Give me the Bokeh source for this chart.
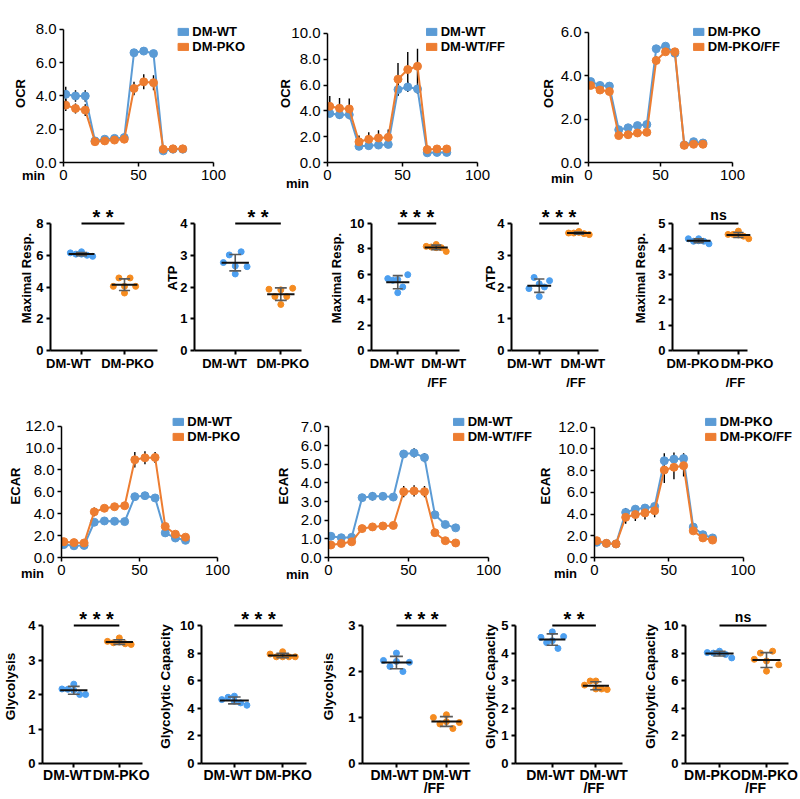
import numpy as np
from bokeh.plotting import figure
from bokeh.layouts import column, row
from bokeh.models import (Range1d, FixedTicker, NumeralTickFormatter, Legend,
                          LegendItem, Label, LinearAxis)
from bokeh.embed import file_html
from bokeh.resources import INLINE

# ---------------- data ----------------
TIME_MIN = [1.5, 8.0, 14.5, 21.0, 27.5, 34.0, 40.5, 47.0, 53.5, 60.0, 66.5, 73.0, 79.5]

OCR_A_WT = [4.1, 4.0, 4.0, 1.3, 1.4, 1.45, 1.5, 6.6, 6.7, 6.55, 0.7, 0.8, 0.8]
OCR_A_WT_ERR = [0.45, 0.35, 0.35, 0.1, 0.1, 0.1, 0.1, 0.15, 0.15, 0.15, 0.1, 0.05, 0.05]
OCR_A_PKO = [3.45, 3.25, 3.15, 1.25, 1.3, 1.35, 1.4, 4.45, 4.85, 4.8, 0.8, 0.82, 0.82]
OCR_A_PKO_ERR = [0.35, 0.3, 0.35, 0.1, 0.1, 0.1, 0.1, 0.4, 0.45, 0.45, 0.1, 0.05, 0.05]

OCR_B_WT = [3.8, 3.7, 3.7, 1.25, 1.3, 1.35, 1.4, 5.65, 5.85, 5.7, 0.75, 0.78, 0.78]
OCR_B_WT_ERR = [0.3, 0.3, 0.3, 0.15, 0.15, 0.15, 0.15, 0.5, 0.4, 0.4, 0.1, 0.05, 0.05]
OCR_B_WTFF = [4.35, 4.2, 4.15, 1.6, 1.8, 1.9, 1.95, 6.45, 7.2, 7.45, 1.0, 1.05, 1.05]
OCR_B_WTFF_ERR = [0.8, 0.8, 0.8, 0.5, 0.55, 0.6, 0.6, 1.25, 1.35, 1.35, 0.35, 0.1, 0.1]

OCR_C_PKO = [3.73, 3.55, 3.52, 1.51, 1.6, 1.7, 1.75, 5.24, 5.36, 5.03, 0.81, 0.96, 0.9]
OCR_C_PKO_ERR = [0.1, 0.15, 0.15, 0.05, 0.05, 0.05, 0.05, 0.15, 0.15, 0.15, 0.05, 0.05, 0.05]
OCR_C_PKOFF = [3.55, 3.34, 3.27, 1.24, 1.28, 1.36, 1.39, 4.7, 5.1, 5.1, 0.79, 0.84, 0.84]
OCR_C_PKOFF_ERR = [0.15, 0.15, 0.15, 0.05, 0.05, 0.05, 0.05, 0.2, 0.15, 0.15, 0.05, 0.05, 0.05]

ECAR_A_WT = [1.18, 1.07, 1.1, 3.22, 3.34, 3.31, 3.28, 5.56, 5.65, 5.44, 2.25, 1.78, 1.57]
ECAR_A_WT_ERR = [0.1, 0.1, 0.1, 0.1, 0.1, 0.1, 0.1, 0.15, 0.15, 0.15, 0.1, 0.1, 0.1]
ECAR_A_PKO = [1.45, 1.36, 1.33, 4.17, 4.5, 4.64, 4.73, 8.93, 9.11, 9.14, 2.84, 2.13, 1.86]
ECAR_A_PKO_ERR = [0.15, 0.1, 0.1, 0.4, 0.2, 0.2, 0.2, 0.7, 0.6, 0.5, 0.2, 0.1, 0.1]

ECAR_B_WT = [1.14, 1.06, 1.08, 3.21, 3.28, 3.28, 3.24, 5.55, 5.61, 5.36, 2.29, 1.77, 1.59]
ECAR_B_WT_ERR = [0.1, 0.1, 0.1, 0.2, 0.22, 0.2, 0.2, 0.2, 0.25, 0.25, 0.2, 0.1, 0.05]
ECAR_B_WTFF = [0.67, 0.75, 0.84, 1.55, 1.64, 1.69, 1.72, 3.53, 3.57, 3.53, 1.33, 0.9, 0.78]
ECAR_B_WTFF_ERR = [0.05, 0.05, 0.05, 0.1, 0.1, 0.1, 0.1, 0.3, 0.3, 0.3, 0.1, 0.05, 0.05]

ECAR_C_PKO = [1.4, 1.3, 1.25, 4.15, 4.45, 4.55, 4.7, 8.9, 9.05, 9.1, 2.8, 2.1, 1.8]
ECAR_C_PKO_ERR = [0.15, 0.1, 0.1, 0.4, 0.3, 0.3, 0.3, 0.7, 0.6, 0.5, 0.2, 0.1, 0.1]
ECAR_C_PKOFF = [1.55, 1.3, 1.25, 3.7, 3.95, 4.1, 4.3, 8.05, 8.3, 8.45, 2.45, 1.8, 1.6]
ECAR_C_PKOFF_ERR = [0.15, 0.1, 0.1, 0.6, 0.6, 0.6, 0.6, 1.2, 1.1, 1.0, 0.2, 0.1, 0.1]

MAXRESP_A_WT = [6.15, 6.07, 6.22, 6.07, 6.0, 5.93]
MAXRESP_A_PKO = [4.04, 4.57, 4.04, 3.62, 4.57, 4.04]
ATP_A_WT = [2.77, 3.01, 2.66, 2.41, 3.11, 2.64]
ATP_A_PKO = [1.93, 1.70, 1.91, 1.45, 1.70, 1.96]
MAXRESP_B_WT = [5.66, 5.53, 5.58, 4.55, 5.0, 5.97]
MAXRESP_B_WTFF = [8.2, 8.15, 8.35, 8.1, 8.1, 7.8]
ATP_B_WT = [1.95, 2.3, 2.1, 1.7, 2.0, 2.2]
ATP_B_WTFF = [3.7, 3.7, 3.72, 3.75, 3.68, 3.65]
MAXRESP_C_PKO = [4.4, 4.3, 4.32, 4.4, 4.3, 4.2]
MAXRESP_C_PKOFF = [4.57, 4.57, 4.7, 4.55, 4.5, 4.4]

GLY_A_WT = [2.16, 2.15, 2.3, 2.12, 2.0, 2.0]
GLY_A_PKO = [3.54, 3.5, 3.64, 3.52, 3.47, 3.45]
GLYCAP_A_WT = [4.63, 4.8, 4.51, 4.88, 4.39, 4.22]
GLYCAP_A_PKO = [7.93, 7.73, 7.73, 8.1, 7.73, 7.73]
GLY_B_WT = [2.24, 2.11, 2.4, 2.22, 2.0, 2.2]
GLY_B_WTFF = [1.0, 0.86, 1.06, 0.91, 0.76, 0.89]
GLYCAP_B_WT = [4.57, 4.38, 4.77, 4.45, 4.17, 4.6]
GLYCAP_B_WTFF = [2.84, 2.99, 2.7, 2.99, 2.7, 2.68]
GLYCAP_C_PKO = [8.04, 8.0, 8.14, 8.05, 7.9, 7.65]
GLYCAP_C_PKOFF = [7.55, 8.0, 7.43, 6.69, 8.14, 7.16]

# ---------------- style ----------------
FONT = "Liberation Sans"
BLUE = "#5b9bd5"
ORANGE = "#ed7d31"
DBLUE = "#4c9ff0"
DORANGE = "#f58b1f"
SDCOL = "#5a5a5a"
JITTER = [-0.26, -0.13, 0.0, 0.0, 0.13, 0.26]
MEAN_HW = 0.3
CAP_HW = 0.13
NAN1 = np.array([np.nan])


def base_fig(canvas, frame, xr, yr):
    cx0, cy0, W, H = canvas
    fl, fr, ft, fb = frame
    p = figure(width=W, height=H, output_backend="svg", toolbar_location=None,
               x_range=Range1d(*xr), y_range=Range1d(*yr),
               min_border_left=fl - cx0, min_border_right=cx0 + W - fr,
               min_border_top=ft - cy0, min_border_bottom=cy0 + H - fb)
    p.xgrid.visible = False
    p.ygrid.visible = False
    p.outline_line_color = None
    p.background_fill_color = "white"
    p.border_fill_color = "white"
    for ax in (p.xaxis[0], p.yaxis[0]):
        ax.axis_line_color = "black"
        ax.major_tick_line_color = "black"
        ax.major_tick_in = 0
        ax.major_tick_out = 4
        ax.minor_tick_line_color = None
        ax.major_label_text_font = FONT
        ax.major_label_text_color = "black"
        ax.axis_label_text_font = FONT
        ax.axis_label_text_color = "black"
        ax.axis_label_text_font_style = "bold"
    return p


def line_panel(g, ylabel, ymax, ystep, names, s1, e1, s2, e2, min_off, lab_sd):
    fl, fr, ft, fb = g["frame"]
    ppx = (g["x100"] - fl) / 100.0
    ppy = (fb - g["ytop"]) / ymax
    p = base_fig(g["canvas"], g["frame"], (0, (fr - fl) / ppx),
                 (0, ymax + (g["ytop"] - ft) / ppy))
    xa, ya = p.xaxis[0], p.yaxis[0]
    for ax in (xa, ya):
        ax.axis_line_width = 1.5
        ax.major_tick_line_width = 1.5
        ax.major_label_text_font_size = "15px"
        ax.major_label_standoff = 3
    xa.bounds = (0, 100)
    xa.ticker = FixedTicker(ticks=[0, 50, 100])
    ya.bounds = (0, ymax)
    ya.ticker = FixedTicker(ticks=list(np.arange(0, ymax + 0.001, ystep)))
    ya.formatter = NumeralTickFormatter(format="0.0")
    ya.axis_label = ylabel
    ya.axis_label_text_font_size = "13px"
    ya.axis_label_standoff = lab_sd

    t = np.array(TIME_MIN)
    for vals, errs in ((s1, e1), (s2, e2)):
        v = np.array(vals)
        e = np.array(errs)
        p.segment(t, v - e, t, v + e, line_color="black", line_width=1.4)
    rends = []
    for vals, col in ((s1, BLUE), (s2, ORANGE)):
        p.line(TIME_MIN, vals, line_color=col, line_width=2)
        p.scatter(TIME_MIN, vals, size=8, fill_color=col, line_color=col)
        rends.append(p.rect(x=NAN1, y=NAN1, width=1, height=1, fill_color=col,
                            line_color=col))
    leg = Legend(items=[LegendItem(label=names[0], renderers=[rends[0]]),
                        LegendItem(label=names[1], renderers=[rends[1]])],
                 location="top_right", margin=0, padding=0, spacing=0,
                 glyph_width=13, glyph_height=9, label_standoff=3,
                 label_height=14, label_text_line_height=0.9,
                 background_fill_alpha=0,
                 border_line_color=None, label_text_font=FONT,
                 label_text_font_size="13px", label_text_font_style="bold",
                 label_text_color="black")
    p.add_layout(leg)
    # "min" sits left of the x tick labels; kept in the side panel so it is not clipped
    p.add_layout(Label(x=0, y=0, x_offset=min_off[0], y_offset=min_off[1],
                       text="min", text_font=FONT, text_font_size="13px",
                       text_font_style="bold", text_align="center",
                       text_baseline="middle", text_color="black"), "below")
    return p


def label_axis(p, name, fl, fr, ticks, centers, texts, size, standoff):
    # an axis without line/ticks that only carries category names at given pixel centres
    if len(ticks) == 2:
        scale = float(centers[1] - centers[0])
    else:
        scale = 1.0
    start = ticks[0] - (centers[0] - fl) / scale
    end = ticks[0] + (fr - centers[0]) / scale
    p.extra_x_ranges[name] = Range1d(start, end)
    ax = LinearAxis(x_range_name=name, ticker=FixedTicker(ticks=ticks),
                    major_label_overrides={t: s for t, s in zip(ticks, texts)},
                    axis_line_color=None, major_tick_line_color=None,
                    minor_tick_line_color=None, major_tick_in=0, major_tick_out=0,
                    major_label_standoff=standoff, major_label_text_font=FONT,
                    major_label_text_font_size=size,
                    major_label_text_font_style="bold",
                    major_label_text_color="black")
    p.add_layout(ax, "below")


def dot_panel(g, ylabel, ymax, ystep, cats, v1, v2, sig, lab_sd, lab_size,
              cat_size):
    fl, fr, ft, fb = g["frame"]
    c1, c2 = g["cats"]
    ppx = float(c2 - c1)
    xs = 1 - (c1 - fl) / ppx
    xe = 1 + (fr - c1) / ppx
    xend = 1 + (g["xend"] - c1) / ppx
    ppy = (fb - g["ytop"]) / ymax
    p = base_fig(g["canvas"], g["frame"], (xs, xe),
                 (0, ymax + (g["ytop"] - ft) / ppy))
    xa, ya = p.xaxis[0], p.yaxis[0]
    for ax in (xa, ya):
        ax.axis_line_width = 2
        ax.major_tick_line_width = 2
        ax.major_label_text_font_style = "bold"
        ax.major_label_standoff = 3
    ya.major_label_text_font_size = "13px"
    # the main x axis carries the line and tick marks; names come from label axes
    xa.major_label_text_color = None
    xa.major_label_text_font_size = "1px"
    xa.major_label_standoff = 0
    xa.bounds = (xs, xend)
    xa.ticker = FixedTicker(ticks=[1, 2])
    ya.bounds = (0, ymax)
    ya.ticker = FixedTicker(ticks=list(np.arange(0, ymax + 0.001, ystep)))
    ya.axis_label = ylabel
    ya.axis_label_text_font_size = lab_size
    ya.axis_label_standoff = lab_sd

    first = [c.split("\n")[0] for c in cats]
    offs = g["lab"]
    label_axis(p, "names", fl, fr, [1, 2], [c1 + offs[0][0], c2 + offs[1][0]],
               first, cat_size, g["sd"][0])
    seconds = [(k + 1, c.split("\n")[1], (c1, c2)[k] + offs[k][1])
               for k, c in enumerate(cats) if "\n" in c]
    if seconds:
        label_axis(p, "names2", fl, fr, [s[0] for s in seconds],
                   [s[2] for s in seconds], [s[1] for s in seconds], cat_size,
                   g["sd"][1])

    for k, (vals, col) in enumerate(((v1, DBLUE), (v2, DORANGE))):
        c = k + 1
        p.scatter([c + j for j in JITTER], vals, size=6, fill_color=col,
                  line_color=col)
        m = float(np.mean(vals))
        sd = float(np.std(vals, ddof=1))
        p.segment([c, c - CAP_HW, c - CAP_HW], [m - sd, m - sd, m + sd],
                  [c, c + CAP_HW, c + CAP_HW], [m + sd, m - sd, m + sd],
                  line_color=SDCOL, line_width=1.6)
        p.segment([c - MEAN_HW], [m], [c + MEAN_HW], [m], line_color="#111111",
                  line_width=2)
    p.segment([1], [ymax], [2], [ymax], line_color="black", line_width=2.2)
    is_ns = sig == "ns"
    p.add_layout(Label(x=1.5, y=ymax, y_offset=(1 if is_ns else -4),
                       text=sig, text_font=FONT,
                       text_font_size=("14px" if is_ns else "20px"),
                       text_font_style="bold", text_align="center",
                       text_baseline="bottom", text_color="black"))
    return p


# ---------------- geometry (page pixel coordinates) ----------------
R2S = (1, 1)
R4S = (-1, -6)

r1 = [
    line_panel(dict(canvas=(0, 0, 270, 197), frame=(63, 245, 24, 163), x100=213, ytop=29),
               "OCR", 8, 2, ["DM-WT", "DM-PKO"], OCR_A_WT, OCR_A_WT_ERR,
               OCR_A_PKO, OCR_A_PKO_ERR, (-30, -13), 5),
    line_panel(dict(canvas=(270, 0, 265, 197), frame=(327, 505, 22, 162), x100=477, ytop=31),
               "OCR", 10, 2, ["DM-WT", "DM-WT/FF"], OCR_B_WT, OCR_B_WT_ERR,
               OCR_B_WTFF, OCR_B_WTFF_ERR, (-30, -21), -5),
    line_panel(dict(canvas=(535, 0, 265, 197), frame=(588, 780, 21, 163), x100=732, ytop=29),
               "OCR", 6, 2, ["DM-PKO", "DM-PKO/FF"], OCR_C_PKO, OCR_C_PKO_ERR,
               OCR_C_PKOFF, OCR_C_PKOFF_ERR, (-26, -16), 2),
]

r2 = [
    dot_panel(dict(canvas=(0, 197, 162, 203), frame=(50, 159, 205, 350), cats=(81, 124),
                   xend=157, ytop=223, lab=((-13,), (3,)), sd=R2S),
              "Maximal Resp.", 8, 2, ["DM-WT", "DM-PKO"], MAXRESP_A_WT, MAXRESP_A_PKO,
              "* *", -1, "13px", "13px"),
    dot_panel(dict(canvas=(162, 197, 164, 203), frame=(190, 323, 205, 350), cats=(232, 279),
                   xend=300, ytop=223, lab=((-11,), (2,)), sd=R2S),
              "ATP", 4, 1, ["DM-WT", "DM-PKO"], ATP_A_WT, ATP_A_PKO,
              "* *", -3, "13px", "13px"),
    dot_panel(dict(canvas=(326, 197, 154, 203), frame=(364, 477, 205, 350), cats=(392, 433),
                   xend=458, ytop=223, lab=((-6,), (8, 1)), sd=R2S),
              "Maximal Resp.", 10, 2, ["DM-WT", "DM-WT\n/FF"], MAXRESP_B_WT, MAXRESP_B_WTFF,
              "* * *", 3, "13px", "13px"),
    dot_panel(dict(canvas=(480, 197, 150, 203), frame=(510, 627, 205, 350), cats=(538, 578),
                   xend=598, ytop=223, lab=((-10,), (4, -3)), sd=R2S),
              "ATP", 4, 1, ["DM-WT", "DM-WT\n/FF"], ATP_B_WT, ATP_B_WTFF,
              "* * *", -4, "13px", "13px"),
    dot_panel(dict(canvas=(630, 197, 170, 203), frame=(668, 797, 205, 350), cats=(695, 736),
                   xend=745, ytop=223, lab=((-6,), (9, -3)), sd=R2S),
              "Maximal Resp.", 5, 1, ["DM-PKO", "DM-PKO\n/FF"], MAXRESP_C_PKO, MAXRESP_C_PKOFF,
              "ns", 7, "13px", "13px"),
]

r3 = [
    line_panel(dict(canvas=(0, 400, 268, 192), frame=(61, 240, 414, 561), x100=217, ytop=426),
               "ECAR", 12, 2, ["DM-WT", "DM-PKO"], ECAR_A_WT, ECAR_A_WT_ERR,
               ECAR_A_PKO, ECAR_A_PKO_ERR, (-29, -16), -1),
    line_panel(dict(canvas=(268, 400, 267, 192), frame=(328, 532, 414, 563), x100=488, ytop=427),
               "ECAR", 7, 1, ["DM-WT", "DM-WT/FF"], ECAR_B_WT, ECAR_B_WT_ERR,
               ECAR_B_WTFF, ECAR_B_WTFF_ERR, (-31, -17), 7),
    line_panel(dict(canvas=(535, 400, 265, 192), frame=(592, 792, 413, 561), x100=742, ytop=426),
               "ECAR", 12, 2, ["DM-PKO", "DM-PKO/FF"], ECAR_C_PKO, ECAR_C_PKO_ERR,
               ECAR_C_PKOFF, ECAR_C_PKOFF_ERR, (-29, -16), 2),
]

r4 = [
    dot_panel(dict(canvas=(0, 592, 155, 207), frame=(36, 152, 609, 763), cats=(69, 117),
                   xend=141, ytop=625, lab=((-7,), (2,)), sd=R4S),
              "Glycolysis", 4, 1, ["DM-WT", "DM-PKO"], GLY_A_WT, GLY_A_PKO,
              "* * *", 7, "13.5px", "14px"),
    dot_panel(dict(canvas=(155, 592, 163, 207), frame=(197, 315, 609, 763), cats=(231, 281),
                   xend=306, ytop=625, lab=((-7,), (1,)), sd=R4S),
              "Glycolytic Capacity", 10, 2, ["DM-WT", "DM-PKO"], GLYCAP_A_WT, GLYCAP_A_PKO,
              "* * *", 4, "13.5px", "14px"),
    dot_panel(dict(canvas=(318, 592, 162, 207), frame=(355, 477, 609, 763), cats=(391, 444),
                   xend=468, ytop=625, lab=((-2,), (0, -13)), sd=R4S),
              "Glycolysis", 3, 1, ["DM-WT", "DM-WT\n/FF"], GLY_B_WT, GLY_B_WTFF,
              "* * *", 9, "13.5px", "14px"),
    dot_panel(dict(canvas=(480, 592, 160, 207), frame=(511, 637, 609, 763), cats=(549, 594),
                   xend=622, ytop=625, lab=((-2,), (8, -2)), sd=R4S),
              "Glycolytic Capacity", 5, 1, ["DM-WT", "DM-WT\n/FF"], GLYCAP_B_WT, GLYCAP_B_WTFF,
              "* *", 0, "13.5px", "14px"),
    dot_panel(dict(canvas=(640, 592, 160, 207), frame=(685, 797, 609, 763), cats=(719, 766),
                   xend=788, ytop=625, lab=((-7,), (3, -11)), sd=R4S),
              "Glycolytic Capacity", 10, 2, ["DM-PKO", "DM-PKO\n/FF"], GLYCAP_C_PKO, GLYCAP_C_PKOFF,
              "ns", 3, "13.5px", "14px"),
]

layout = column(row(*r1, spacing=0), row(*r2, spacing=0), row(*r3, spacing=0),
                row(*r4, spacing=0), spacing=0)

open("out.html", "w").write(file_html(layout, INLINE))
